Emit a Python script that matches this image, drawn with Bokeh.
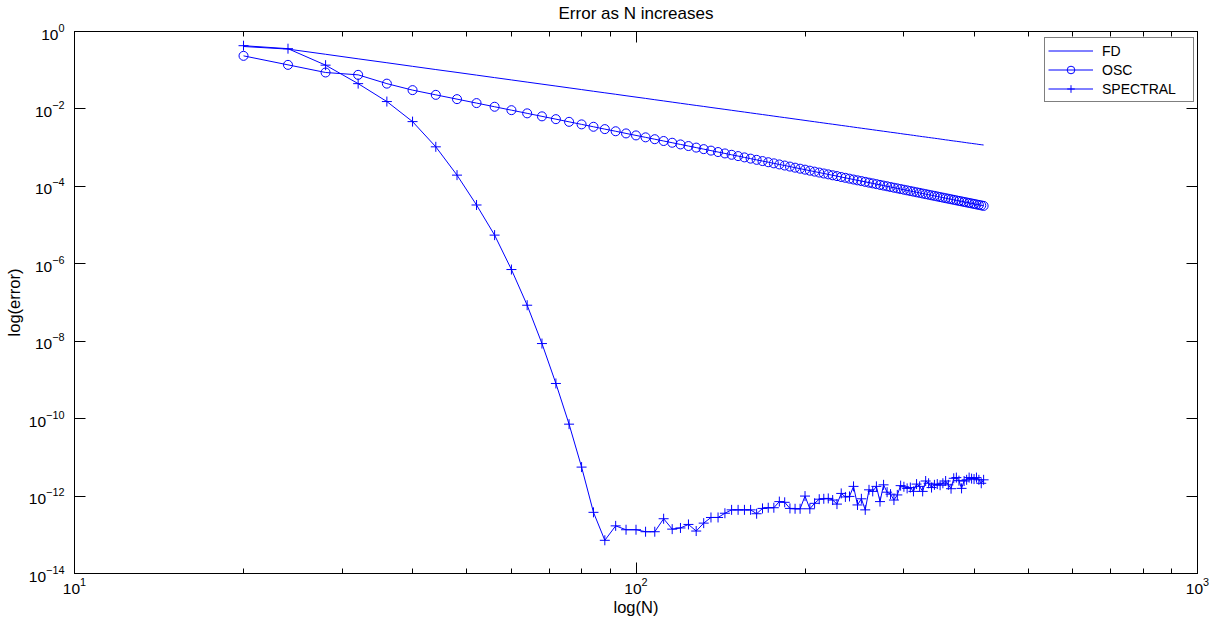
from bokeh.plotting import figure
from bokeh.models import (LogAxis, FixedTicker, LogTickFormatter, Legend, LegendItem,
                          ColumnDataSource, Range1d, CustomJSTickFormatter)
from bokeh.embed import file_html
from bokeh.resources import INLINE

# ---------------- data ----------------
N = list(range(20, 417, 4))

FD = [0.41, 0.351, 0.258, 0.197, 0.156, 0.126, 0.104, 0.0877, 0.0747, 0.0644,
      0.0561, 0.0493, 0.0437, 0.0390, 0.0350, 0.0316, 0.0286, 0.0261, 0.0239, 0.0219,
      0.0202, 0.0187, 0.0173, 0.0161, 0.0150, 0.0140, 0.0131, 0.0123, 0.0116, 0.0109,
      0.0103, 0.00974, 0.00922, 0.00874, 0.00830, 0.00789, 0.00751, 0.00716, 0.00683, 0.00652,
      0.00623, 0.00597, 0.00572, 0.00548, 0.00526, 0.00505, 0.00485, 0.00467, 0.00449, 0.00433,
      0.00417, 0.00403, 0.00389, 0.00375, 0.00363, 0.00351, 0.00339, 0.00328, 0.00318, 0.00308,
      0.00299, 0.00290, 0.00281, 0.00273, 0.00265, 0.00258, 0.00250, 0.00244, 0.00237, 0.00231,
      0.00224, 0.00219, 0.00213, 0.00208, 0.00202, 0.00197, 0.00192, 0.00188, 0.00183, 0.00179,
      0.00175, 0.00171, 0.00167, 0.00163, 0.00159, 0.00156, 0.00152, 0.00149, 0.00146, 0.00143,
      0.00140, 0.00137, 0.00134, 0.00131, 0.00129, 0.00126, 0.00124, 0.00121, 0.00119, 0.00117]

OSC = [0.235, 0.1374, 0.0873, 0.0759, 0.045, 0.0306, 0.0231, 0.0179, 0.01416, 0.01138,
       0.00929, 0.00769, 0.00643, 0.00544, 0.00464, 0.00399, 0.00346, 0.00301, 0.00265, 0.00233,
       0.00207, 0.001845, 0.001651, 0.001484, 0.001338, 0.001211, 0.001100, 0.001002, 0.000915, 0.000838,
       0.000770, 0.000708, 0.000654, 0.000605, 0.000560, 0.000520, 0.000484, 0.000450, 0.000420, 0.000393,
       0.000368, 0.000345, 0.000324, 0.000304, 0.000286, 0.000270, 0.000254, 0.000240, 0.000227, 0.000215,
       0.000204, 0.000193, 0.000184, 0.000174, 0.000166, 0.000158, 0.000150, 0.000143, 0.000137, 0.0001306,
       0.0001247, 0.0001193, 0.0001141, 0.0001092, 0.0001046, 0.0001003, 0.0000962, 0.0000923, 0.0000887, 0.0000852,
       0.0000819, 0.0000788, 0.0000758, 0.0000730, 0.0000703, 0.0000678, 0.0000653, 0.0000630, 0.0000608, 0.0000587,
       0.0000567, 0.0000548, 0.0000529, 0.0000512, 0.0000495, 0.0000479, 0.0000464, 0.0000449, 0.0000435, 0.0000421,
       0.0000409, 0.0000396, 0.0000384, 0.0000373, 0.0000362, 0.0000352, 0.0000341, 0.0000332, 0.0000322, 0.0000313]

SPECTRAL = [0.43, 0.36, 0.135, 0.045, 0.0155, 0.0047, 1.05e-3, 1.95e-4, 3.3e-5, 5.5e-6,
            7.1e-7, 8.5e-8, 8.7e-9, 8.1e-10, 7.2e-11, 5.6e-12, 3.8e-13, 7.2e-14, 1.7e-13, 1.35e-13,
            1.35e-13, 1.2e-13, 1.2e-13, 2.6e-13, 1.4e-13, 1.5e-13, 1.85e-13, 1.25e-13, 2.0e-13, 2.8e-13,
            2.8e-13, 3.6e-13, 4.4e-13, 4.4e-13, 4.4e-13, 4.4e-13, 3.5e-13, 4.8e-13, 5.0e-13, 5.0e-13,
            7.2e-13, 6.9e-13, 4.8e-13, 4.7e-13, 4.7e-13, 1.0e-12, 4.7e-13, 6.5e-13, 8.3e-13, 8.5e-13,
            8.7e-13, 7.9e-13, 6.2e-13, 1.17e-12, 9.5e-13, 9.8e-13, 1.78e-12, 5.9e-13, 8.5e-13, 4.4e-13,
            1.45e-12, 1.32e-12, 1.78e-12, 7.2e-13, 1.95e-12, 1.26e-12, 1.12e-12, 7.9e-13, 1.07e-12, 1.86e-12,
            1.74e-12, 1.58e-12, 1.66e-12, 1.32e-12, 2.04e-12, 1.78e-12, 1.32e-12, 2.45e-12, 2.14e-12, 1.66e-12,
            1.95e-12, 2.04e-12, 1.91e-12, 2.14e-12, 2.45e-12, 1.95e-12, 1.55e-12, 2.88e-12, 3.0e-12, 2.5e-12,
            1.58e-12, 2.45e-12, 2.63e-12, 3.0e-12, 2.82e-12, 2.75e-12, 3.0e-12, 2.63e-12, 2.14e-12, 2.63e-12]

X_MAJOR = [10, 100, 1000]
X_MINOR = [20, 30, 40, 50, 60, 70, 80, 90, 200, 300, 400, 500, 600, 700, 800, 900]
Y_MAJOR = [1e0, 1e-2, 1e-4, 1e-6, 1e-8, 1e-10, 1e-12, 1e-14]

TITLE = "Error as N increases"
XLABEL = "log(N)"
YLABEL = "log(error)"

# ---------------- styling ----------------
FONT = "Liberation Sans"
BLUE = "#0000ff"

src = ColumnDataSource(dict(n=N, fd=FD, osc=OSC, sp=SPECTRAL))

p = figure(width=1217, height=626, x_axis_type="log", y_axis_type="log",
           x_range=Range1d(10, 1000), y_range=Range1d(1e-14, 1),
           output_backend="svg", toolbar_location=None,
           min_border_left=74, min_border_right=20, min_border_top=31, min_border_bottom=53,
           title=TITLE)
p.title.align = "center"
p.title.text_font = FONT
p.title.text_font_size = "17px"
p.title.text_font_style = "normal"
p.title.text_color = "black"
p.title.standoff = 0
p.title.padding = dict(left=0, right=0, top=0, bottom=9)
p.grid.visible = False
p.outline_line_color = "black"
p.outline_line_width = 1

xt = FixedTicker(ticks=X_MAJOR, minor_ticks=X_MINOR)
yt = FixedTicker(ticks=Y_MAJOR, minor_ticks=[])

def style_axis(ax, ticker, show_labels):
    ax.ticker = ticker
    ax.axis_line_color = "black"
    ax.major_tick_in = 11
    ax.major_tick_out = 0
    ax.minor_tick_in = 5
    ax.minor_tick_out = 0
    ax.major_tick_line_color = "black"
    ax.minor_tick_line_color = "black"
    ax.major_label_text_font = FONT
    ax.major_label_text_font_size = "15.5px"
    ax.major_label_text_color = "black"
    ax.axis_label_text_font = FONT
    ax.axis_label_text_font_size = "16.5px"
    ax.axis_label_text_font_style = "normal"
    ax.axis_label_text_color = "black"
    if not show_labels:
        ax.formatter = CustomJSTickFormatter(code="return ''")
        ax.major_label_standoff = 0
        ax.major_label_text_font_size = "0px"

xa = p.xaxis[0]
style_axis(xa, xt, True)
xa.formatter = LogTickFormatter()
xa.axis_label = XLABEL
xa.major_label_standoff = 4
xa.axis_label_standoff = 1

ya = p.yaxis[0]
style_axis(ya, yt, True)
ya.formatter = LogTickFormatter()
ya.axis_label = YLABEL
ya.major_label_standoff = 10
ya.axis_label_standoff = 3

top = LogAxis()
style_axis(top, xt, False)
p.add_layout(top, "above")
right = LogAxis()
style_axis(right, yt, False)
p.add_layout(right, "right")

r_fd = p.line("n", "fd", source=src, line_color=BLUE, line_width=1)
r_osc_l = p.line("n", "osc", source=src, line_color=BLUE, line_width=1)
r_osc_m = p.scatter("n", "osc", source=src, marker="circle", size=9,
                    line_color=BLUE, fill_color=None, line_width=1)
r_sp_l = p.line("n", "sp", source=src, line_color=BLUE, line_width=1)
r_sp_m = p.scatter("n", "sp", source=src, marker="cross", size=10,
                   line_color=BLUE, line_width=1)

legend = Legend(items=[
    LegendItem(label="FD", renderers=[r_fd]),
    LegendItem(label="OSC", renderers=[r_osc_l, r_osc_m]),
    LegendItem(label="SPECTRAL", renderers=[r_sp_l, r_sp_m]),
], location=(970, 471), padding=3, spacing=0,
   glyph_width=45, glyph_height=19, label_height=19, label_standoff=9, label_width=88,
   border_line_color="black", border_line_width=1,
   label_text_font=FONT, label_text_font_size="14px", label_text_color="black",
   background_fill_color="white", background_fill_alpha=1)
p.add_layout(legend)

open("out.html", "w").write(file_html(p, INLINE))
